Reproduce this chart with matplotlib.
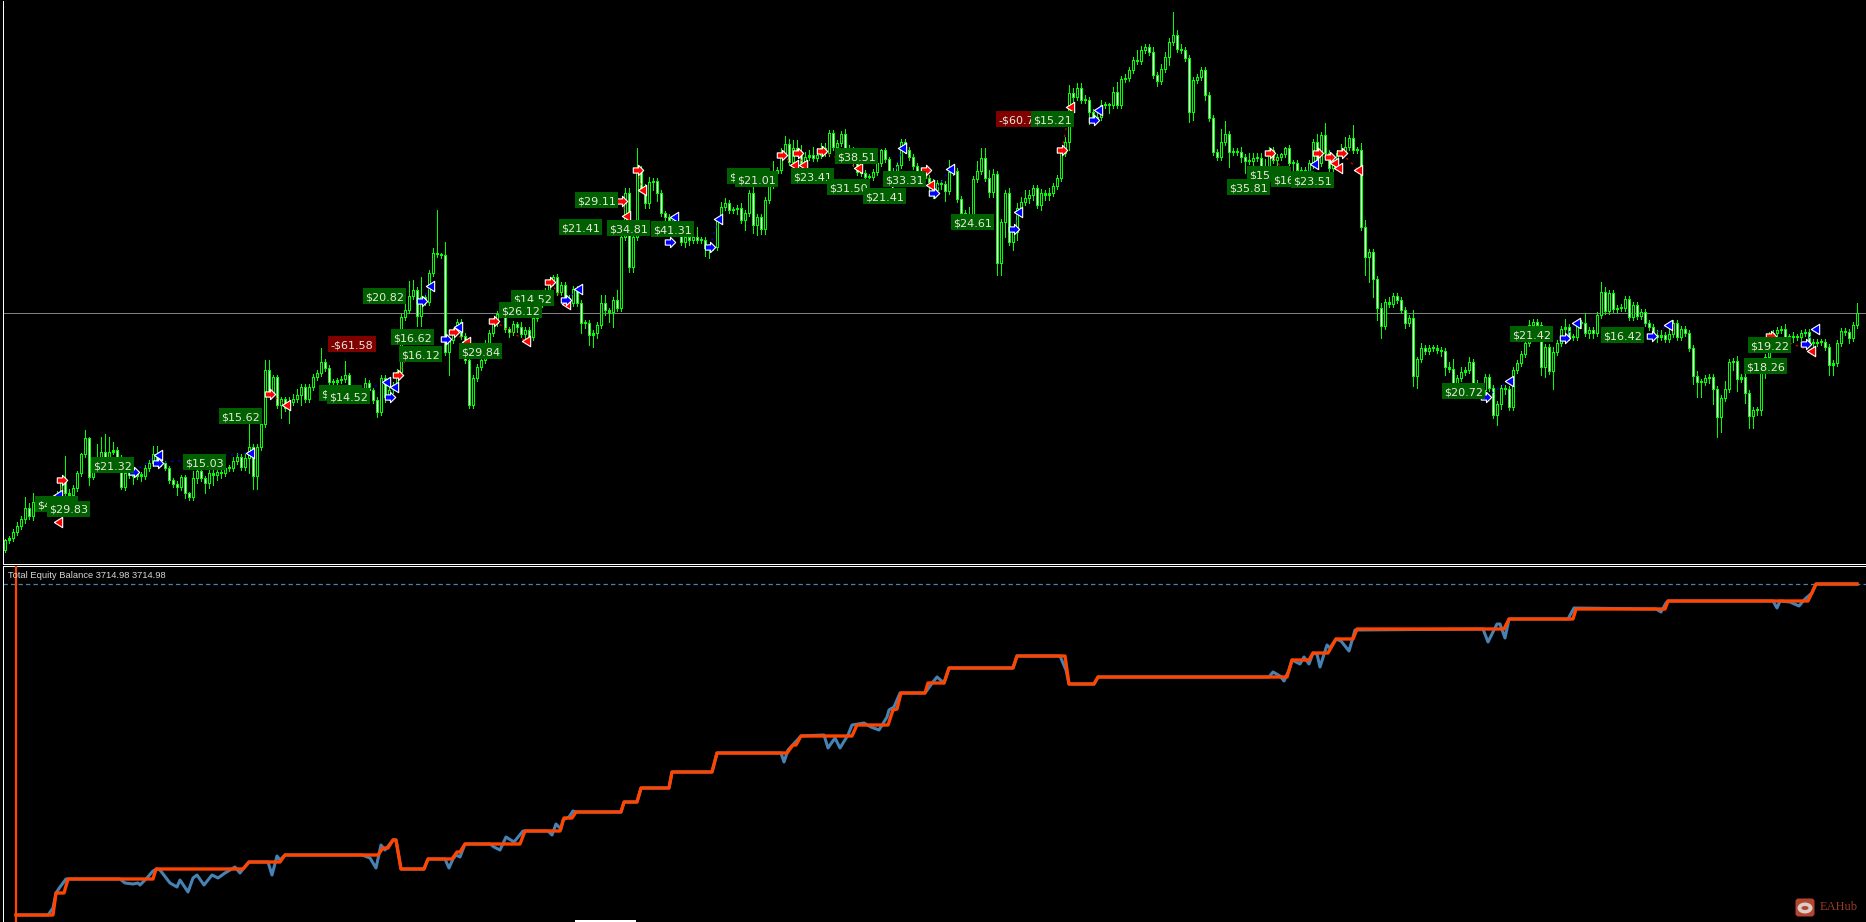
import numpy as np
import matplotlib
matplotlib.use('Agg')
from matplotlib import pyplot as plt
from matplotlib.path import Path
from matplotlib.collections import LineCollection
from matplotlib.patches import Rectangle, FancyBboxPatch, Ellipse

W, H = 1866, 922
BG = '#000000'
GREEN = '#00FF00'
ORANGE = '#FF4500'
STEEL = '#4682B4'

# prices are in chart units, one candle every 4 units of x
first_open = 12
closes = [
22,24,30,36,43,54,46,60,54,59,60,62,64,67,80,69,67,74,89,108,
124,85,99,105,110,105,110,112,105,75,89,87,86,88,86,94,99,108,99,99,
94,82,78,75,85,69,65,84,91,84,79,89,87,90,89,94,94,101,105,95,
104,115,86,115,138,192,169,185,157,163,154,160,163,167,175,163,175,185,189,200,
194,180,180,182,183,187,174,169,169,174,179,172,162,150,184,165,172,177,190,245,
252,266,272,246,265,260,289,309,308,307,210,222,231,240,226,202,157,184,195,202,
219,229,239,248,249,233,230,238,235,228,232,225,244,255,262,269,280,285,270,277,
264,259,273,259,239,239,227,229,237,259,252,250,262,254,325,369,295,325,392,374,
359,380,381,369,349,345,342,332,332,320,325,322,325,322,322,314,315,315,342,355,
359,352,353,354,342,349,369,337,345,333,362,377,389,392,409,418,400,414,409,399,
405,407,404,407,414,409,429,415,419,428,414,412,399,390,389,385,385,390,399,412,
403,391,390,397,420,412,405,396,391,390,384,380,372,379,378,371,390,391,363,349,
345,347,383,391,404,384,370,388,299,340,369,320,330,354,360,364,367,374,357,369,
367,369,376,384,409,420,469,465,474,462,462,450,444,445,457,457,457,470,457,483,
484,492,502,501,512,515,510,487,481,493,505,520,527,513,512,504,450,482,485,492,
467,444,410,405,420,428,410,411,410,405,401,401,404,404,395,395,412,402,405,408,
414,399,399,392,389,392,399,420,399,427,409,394,399,409,410,415,424,412,412,335,
305,310,283,254,236,260,258,266,262,252,239,244,186,203,214,211,214,214,212,211,
195,193,179,184,190,192,200,179,174,172,185,174,147,158,174,173,155,192,199,208,
219,237,240,237,195,215,191,210,219,233,235,225,225,239,239,229,232,229,247,270,
251,269,253,254,254,263,245,257,246,250,239,235,227,225,227,223,228,239,225,233,
229,214,186,180,180,184,185,173,145,164,173,200,201,183,185,169,146,152,152,189,
205,222,229,232,233,225,225,225,225,229,230,220,219,220,220,215,197,199,219,231,
230,224,237,249,
]
upper_wicks = [
1,2,3,4,3,11,5,9,4,3,3,3,3,4,3,26,4,3,2,1,
8,1,3,13,15,18,15,8,3,2,3,3,3,2,2,3,3,8,8,3,
2,2,2,3,2,2,1,7,3,2,2,5,3,3,2,2,3,4,4,3,
4,23,3,3,3,10,10,2,2,2,2,5,5,6,3,3,3,3,3,14,
3,3,3,2,3,14,2,2,5,2,5,3,2,3,3,3,3,3,3,3,
8,15,10,3,20,3,3,5,43,1,13,3,3,3,3,3,3,3,3,5,
3,3,5,3,3,5,2,3,2,5,3,3,3,5,5,5,3,2,3,3,
3,3,3,3,3,3,3,3,3,8,8,2,3,10,5,5,5,3,22,4,
4,5,3,3,3,2,3,2,2,2,3,2,3,10,3,3,2,2,2,5,
5,3,2,3,5,3,3,6,3,3,3,3,12,3,5,8,5,8,8,8,
5,5,8,7,5,5,3,3,3,3,5,3,3,3,3,3,3,3,3,1,
2,2,3,3,3,3,3,3,3,3,3,3,3,3,3,3,12,3,3,3,
3,8,3,10,10,10,8,5,3,3,3,5,5,5,5,8,5,3,3,4,
3,5,3,3,3,5,8,5,5,5,5,3,3,5,5,3,2,5,10,3,
4,3,3,10,4,3,3,5,3,5,5,4,23,5,5,3,3,3,3,3,
3,3,3,3,13,13,3,3,3,5,3,8,5,5,5,8,3,3,3,1,
1,3,3,3,3,3,3,3,8,3,12,3,3,3,8,10,3,13,3,7,
7,3,3,3,5,3,5,3,3,3,3,3,8,2,5,3,3,3,3,3,
3,5,10,3,5,3,5,3,3,5,3,3,3,3,3,3,3,3,3,3,
5,5,3,3,3,3,3,5,3,3,8,3,3,3,3,10,3,3,3,10,
5,3,3,3,4,3,3,3,3,3,3,3,3,5,5,3,5,3,3,3,
3,3,3,5,3,3,3,3,3,3,8,3,3,5,3,3,3,3,3,3,
3,8,3,3,3,5,3,5,3,3,3,3,3,3,3,3,3,3,3,3,
3,3,3,10,
]
lower_wicks = [
2,3,3,3,3,4,3,4,3,3,3,3,3,3,3,3,6,3,3,3,
3,8,2,2,2,2,2,2,2,2,3,3,8,3,5,3,3,3,3,3,
2,3,3,8,3,5,3,3,5,3,10,5,10,5,5,3,3,3,3,3,
3,15,13,13,3,3,3,3,3,13,3,15,3,3,10,3,3,3,3,3,
3,3,3,3,3,3,3,3,10,3,3,10,3,5,3,5,3,3,3,3,
3,3,3,10,10,3,3,3,3,3,3,23,3,3,3,3,3,3,3,3,
3,5,3,3,3,3,5,3,5,3,5,5,3,3,3,3,3,3,3,3,
3,3,3,3,10,5,10,12,5,3,5,10,15,3,3,3,5,5,3,2,
5,5,8,8,3,3,3,3,5,3,5,5,3,3,3,8,10,3,3,3,
3,3,3,5,3,10,3,8,10,5,5,3,3,3,3,3,3,3,3,3,
3,3,3,3,3,3,3,3,3,3,5,3,3,3,3,3,3,3,3,3,
3,3,3,3,3,3,3,3,3,3,3,8,8,3,5,10,3,3,3,3,
8,3,3,3,3,3,5,5,12,12,15,3,8,8,3,3,5,5,3,5,
5,5,3,3,3,3,8,5,3,3,3,12,3,3,3,3,8,3,3,3,
3,3,3,3,3,3,3,3,5,3,3,8,3,3,3,3,10,8,3,3,
5,3,3,3,3,3,15,3,3,5,12,3,10,3,3,3,3,3,10,3,
3,3,8,3,3,3,3,5,3,3,3,3,10,3,3,3,3,3,3,3,
18,25,18,12,12,3,3,3,3,3,5,3,10,12,3,3,3,3,3,5,
8,3,5,3,3,3,3,3,3,5,3,3,3,10,5,5,3,3,3,3,
3,3,3,3,8,10,3,18,3,3,3,3,3,3,5,3,5,5,3,3,
3,3,3,3,3,3,3,3,3,3,3,3,3,5,3,3,3,3,3,3,
3,3,8,15,15,3,5,15,20,15,3,3,8,12,3,10,12,12,5,5,
5,3,3,3,3,8,5,5,3,3,3,3,3,3,3,3,10,10,3,3,
3,5,3,3,
]

# trades, entry then exit
red_in_x = [62,270,398,454,494,550,622,638,782,798,822,926,1062,1270,1318,1330,1342,1771]
red_in_p = [82,168,187,230,241,280,361,392,407,409,411,392,412,409,409,405,409,226]
red_out_x = [58,286,410,466,526,566,626,642,794,803,858,930,1070,1285,1334,1338,1358,1811]
red_out_p = [40,157,210,220,221,258,346,372,397,397,394,377,455,390,399,394,392,211]
blue_in_x = [50,134,158,350,390,422,446,566,670,710,892,934,1014,1094,1305,1486,1565,1652,1806]
blue_in_p = [58,90,99,166,165,261,223,262,320,315,380,369,333,442,385,165,224,226,218]
blue_out_x = [58,158,250,386,394,430,458,578,674,718,902,950,1018,1098,1314,1509,1576,1668,1815]
blue_out_p = [67,107,109,180,175,276,235,273,345,343,414,393,350,452,398,181,239,237,233]

# profit tags, in drawing order, later ones cover earlier ones
tag_text = ['$41.31','$29.83','$21.32','$15.03','$15.62','-$61.58','$14.62','$14.52','$16.62','$16.12','$29.84','$20.82',
            '$14.52','$26.12','$21.41','$29.11','$34.81','$41.31','$15.01','$21.01','$23.41','$31.50','$38.51','$21.41',
            '$33.31','$24.61','-$60.71','$15.21','$15.81','$16.41','$23.51','$35.81','$20.72','$21.42','$16.42','$19.22','$18.26']
tag_x = [35,47,91,183,219,328,319,327,391,399,459,363,511,499,559,575,607,651,727,735,791,827,835,863,883,951,996,1031,1247,1271,1291,1227,1442,1510,1601,1748,1744]
tag_p = [58,53,97,100,146,218,169,166,225,208,211,266,264,252,335,362,334,333,386,383,386,375,406,366,383,340,443,443,388,383,382,375,171,228,227,217,196]

bid_price = 249

# lower window
balance_x = [16,53,56,64,68,153,156,243,249,280,285,378,383,388,393,396,401,424,428,452,457,460,465,520,525,560,564,572,576,621,624,637,641,669,672,712,717,787,793,796,801,852,857,888,893,897,901,925,928,944,949,1013,1017,1065,1069,1094,1098,1287,1292,1309,1313,1328,1336,1353,1357,1504,1509,1573,1576,1665,1668,1808,1816,1857]
balance_v = [7,7,29,29,43,43,53,53,60,60,67,67,74,74,82,82,53,53,63,63,70,70,78,78,91,91,104,104,110,110,120,120,134,134,150,150,169,169,177,177,186,186,197,197,212,213,229,229,239,239,254,254,266,266,238,238,245,245,262,262,269,269,283,283,293,293,303,303,313,313,321,321,338,338]
equity_x = [16,48,53,56,60,66,120,125,133,138,140,146,153,157,160,170,177,180,188,193,197,204,212,218,225,235,240,243,249,268,272,277,280,285,362,370,376,381,385,393,396,401,424,428,445,449,453,456,460,465,490,494,500,506,514,523,548,552,556,561,563,569,573,576,621,624,637,641,669,672,712,717,781,784,788,801,824,828,835,840,848,852,864,871,879,887,889,894,900,925,933,937,944,949,1013,1017,1060,1066,1069,1094,1098,1269,1273,1280,1284,1289,1292,1300,1304,1309,1313,1317,1320,1327,1330,1336,1341,1349,1355,1483,1488,1497,1500,1505,1509,1568,1574,1656,1661,1666,1668,1773,1777,1780,1790,1799,1805,1812,1816,1857]
equity_v = [7,7,14,29,35,43,43,39,38,39,37,43,51,53,52,39,35,42,30,44,47,37,47,44,49,55,49,53,60,60,47,66,62,67,67,64,54,77,72,82,82,53,53,63,63,54,63,67,65,78,78,75,72,85,80,91,91,87,98,93,102,105,111,110,110,120,120,134,134,150,150,169,169,160,172,186,187,174,184,174,187,197,199,195,192,205,212,215,229,229,240,245,239,254,254,266,266,252,238,238,245,245,250,246,241,252,262,258,265,258,269,268,255,277,274,283,281,271,292,293,280,298,298,284,303,303,314,313,310,319,321,321,314,321,320,316,323,329,338,338]
top_level = 338
indicator_title = 'Total Equity Balance 3714.98 3714.98'

closes = np.array(closes, dtype=float)
opens = np.r_[first_open, closes[:-1]]
bar_x = 4 + 4 * np.arange(len(closes)) + 0.5
body_top = np.maximum(opens, closes)
body_bot = np.minimum(opens, closes)
highs = body_top + np.array(upper_wicks)
lows = body_bot - np.array(lower_wicks)

plt.rcParams['font.family'] = ['DejaVu Sans']
fig = plt.figure(figsize=(W / 100, H / 100), dpi=100, facecolor=BG)

def panel(left, top, right, bottom):
    return fig.add_axes([left / W, 1 - bottom / H, (right - left) / W, (bottom - top) / H], facecolor=BG)

ax = panel(3, 1, W, 564)
ax2 = panel(3, 566, W, H)
ax.set_xlim(3, W)
ax.set_ylim(-2, 561)
ax2.set_xlim(3, W)
ax2.set_ylim(0, 356)
for a in (ax, ax2):
    a.set_xticks([])
    a.set_yticks([])
    for s in a.spines.values():
        s.set_color('white')
        s.set_linewidth(0.72)
    a.spines['right'].set_visible(False)
    a.spines['top'].set_visible(False)
ax2.spines['bottom'].set_visible(False)
ax2.spines['top'].set_visible(True)

ax.axhline(bid_price, color='#808080', lw=0.72, zorder=1)

# candles, body drawn as a 3 px green stroke with a 1 px centre
def strokes(x, lo, hi):
    return [[(a, b), (a, c)] for a, b, c in zip(x, lo, hi)]

ax.add_collection(LineCollection(strokes(bar_x, lows, highs), colors=GREEN, linewidths=0.72, zorder=2, antialiaseds=False))
ax.add_collection(LineCollection(strokes(bar_x, body_bot, np.maximum(body_top, body_bot + 1)), colors=GREEN,
                                 linewidths=2.16, capstyle='butt', zorder=3, antialiaseds=False))
face = ['white' if c < o else 'black' for o, c in zip(opens, closes)]
tall = body_top - body_bot > 2
ax.add_collection(LineCollection(strokes(bar_x[tall], body_bot[tall] + 1, body_top[tall] - 1),
                                 colors=[f for f, t in zip(face, tall) if t],
                                 linewidths=0.72, capstyle='butt', zorder=4, antialiaseds=False))

# trade lines and arrows
arrow_r = Path([(-1, .5), (0, .5), (0, 1), (1, 0), (0, -1), (0, -.5), (-1, -.5), (-1, .5)], closed=True)
arrow_l = Path([(.8, 1), (.8, -1), (-.8, 0), (.8, 1)], closed=True)
for xs, ps, xe, pe, col in [(red_in_x, red_in_p, red_out_x, red_out_p, '#FF0000'),
                            (blue_in_x, blue_in_p, blue_out_x, blue_out_p, '#0000FF')]:
    for x0, p0, x1, p1 in zip(xs, ps, xe, pe):
        ax.plot([x0, x1], [p0, p1], color=col, lw=0.8, ls=(0, (2, 4)), zorder=4.5)
    ax.plot(xs, ps, ls='', marker=arrow_r, ms=7.5, mfc=col, mec='white', mew=0.8, zorder=5)
    ax.plot(xe, pe, ls='', marker=arrow_l, ms=7.5, mfc=col, mec='white', mew=0.8, zorder=5)

# profit tags
for i, (t, x, p) in enumerate(zip(tag_text, tag_x, tag_p)):
    loss = t.startswith('-')
    w = 48 if loss else 43
    ax.add_patch(Rectangle((x, p - 8), w, 16, fc='#800000' if loss else '#006000', ec='none', zorder=6 + i * 0.01))
    ax.text(x + 2, p, t, color='#E8E8DC', fontsize=8, va='center_baseline', ha='left',
            zorder=6 + i * 0.01 + 0.005, clip_on=True)

# lower window
ax2.axhline(top_level, color=STEEL, lw=0.9, ls=(0, (3.5, 2.5)), zorder=1)
ax2.plot(equity_x, equity_v, color=STEEL, lw=2.2, zorder=2, solid_joinstyle='round')
ax2.plot(balance_x, balance_v, color=ORANGE, lw=2.4, zorder=3, solid_joinstyle='round')
ax2.axvline(16, color=ORANGE, lw=1.6, zorder=3)
ax2.text(8, 346.5, indicator_title, color='#D8D8D8', fontsize=6.75, family='Liberation Sans', va='center', ha='left', zorder=4)
ax2.add_patch(Rectangle((575, 0), 61, 2, fc='white', ec='none', zorder=4))

# watermark
ax2.add_patch(FancyBboxPatch((1797, 7), 16, 15, boxstyle='round,pad=1.5,rounding_size=3', fc='#B5452F', ec='none', zorder=4))
ax2.add_patch(Ellipse((1805, 14), 15, 11, fc='#D9CFC8', ec='none', zorder=5))
ax2.add_patch(Ellipse((1805, 14), 7, 4, fc='#B5452F', ec='none', zorder=6))
ax2.text(1820, 15, 'EAHub', color='#9B3A25', fontsize=9, family='Liberation Serif', va='center', ha='left', zorder=4)

fig.savefig('out.png', dpi=100, facecolor=BG)
